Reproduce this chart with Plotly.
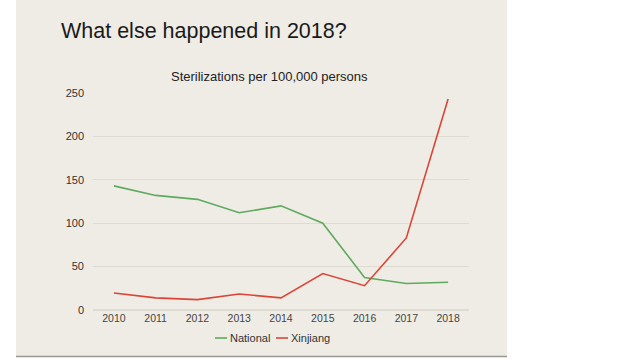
import plotly.graph_objects as go

years = ["2010", "2011", "2012", "2013", "2014", "2015", "2016", "2017", "2018"]
national = [143, 132, 127.5, 112, 120, 100, 37.5, 30.5, 32]
xinjiang = [19.5, 14, 12, 18.5, 14, 42, 28, 83, 243]
series_names = ["National", "Xinjiang"]

GREEN = "#5FAA5F"
RED = "#DC4436"
BG = "#EFECE5"
FONT = "Liberation Sans Narrow, Arial Narrow, Liberation Sans, sans-serif"

# plot area in page px: x 93..469, y 93..310
L, R, T, B = 93, 469, 93, 310
W, H = R - L, B - T

def px(x):
    return (x - L) / W

def py(y):
    return (B - y) / H

fig = go.Figure()
fig.add_trace(go.Scatter(x=years, y=national, mode="lines", name=series_names[0],
                         line=dict(color=GREEN, width=1.6), showlegend=False))
fig.add_trace(go.Scatter(x=years, y=xinjiang, mode="lines", name=series_names[1],
                         line=dict(color=RED, width=1.6), showlegend=False))

# slide background
fig.add_shape(type="rect", xref="paper", yref="paper", layer="below",
              x0=px(16), x1=px(507), y0=py(356), y1=py(-2),
              fillcolor=BG, line=dict(width=0))
fig.add_shape(type="line", xref="paper", yref="paper", layer="below",
              x0=px(16), x1=px(507), y0=py(356.5), y1=py(356.5),
              line=dict(color="#9a9892", width=1.5))

fig.add_annotation(text="What else happened in 2018?", xref="paper", yref="paper",
                   x=px(59), y=py(31), xanchor="left", yanchor="middle", showarrow=False,
                   font=dict(family=FONT, size=21.5, color="#1a1a1a"))
fig.add_annotation(text="Sterilizations per 100,000 persons", xref="paper", yref="paper",
                   x=px(269), y=py(76), xanchor="center", yanchor="middle", showarrow=False,
                   font=dict(family="Liberation Sans, Arial, sans-serif", size=13, color="#222222"))

# compact legend (short line keys like the reference)
legend_items = [(series_names[0], GREEN, 215, 227), (series_names[1], RED, 276, 288)]
for name, col, x0, x1 in legend_items:
    fig.add_shape(type="line", xref="paper", yref="paper",
                  x0=px(x0), x1=px(x1), y0=py(338), y1=py(338),
                  line=dict(color=col, width=1.6))
    fig.add_annotation(text=name, xref="paper", yref="paper", x=px(x1 + 1), y=py(338),
                       xanchor="left", yanchor="middle", showarrow=False,
                       font=dict(family=FONT, size=11, color="#333333"))

fig.update_layout(
    width=640, height=360,
    margin=dict(l=L, r=640 - R, t=T, b=360 - B, pad=0),
    paper_bgcolor="white", plot_bgcolor="rgba(0,0,0,0)",
    showlegend=False,
    xaxis=dict(type="category", range=[-0.5, 8.5], showgrid=False, zeroline=False,
               showline=False, ticks="", tickfont=dict(family=FONT, size=10.5, color="#444444")),
    yaxis=dict(range=[0, 250], tickvals=[0, 50, 100, 150, 200, 250], showgrid=True,
               gridcolor="#DEDBD3", gridwidth=1, zeroline=True, zerolinecolor="#DEDBD3",
               showline=False, ticks="", ticklabelstandoff=8,
               tickfont=dict(family="Liberation Sans, Arial, sans-serif", size=11, color="#333333")),
)

fig.write_html("out.html", config={"displayModeBar": False},
               post_script="document.body.style.margin='0';")
